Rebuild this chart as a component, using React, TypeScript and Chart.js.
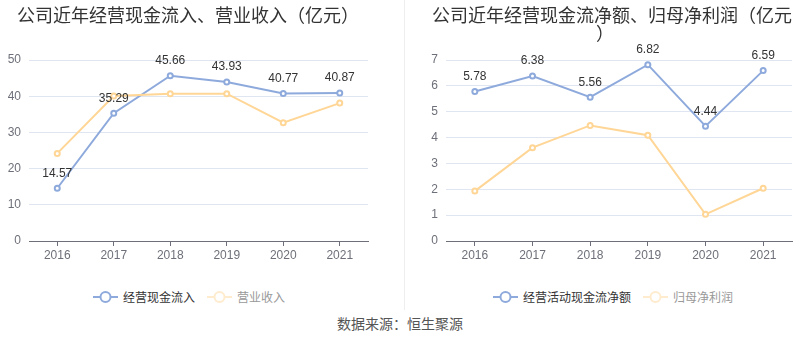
import React, { useEffect, useRef } from 'react';
import { Chart, registerables } from 'chart.js';

Chart.register(...registerables);

const years = ['2016', '2017', '2018', '2019', '2020', '2021'];
const cashInflow = [14.57, 35.29, 45.66, 43.93, 40.77, 40.87];
const revenue = [24.2, 40.05, 40.7, 40.7, 32.7, 38.1];
const netCashFlow = [5.78, 6.38, 5.56, 6.82, 4.44, 6.59];
const netProfit = [1.93, 3.61, 4.47, 4.09, 1.03, 2.04];

const leftTitle = '公司近年经营现金流入、营业收入（亿元）';
const rightTitleLine1 = '公司近年经营现金流净额、归母净利润（亿元';
const rightTitleLine2 = '）';
const leftLegend = ['经营现金流入', '营业收入'];
const rightLegend = ['经营活动现金流净额', '归母净利润'];
const sourceText = '数据来源：恒生聚源';

const BLUE = '#8eaadc';
const ORANGE = '#ffd696';
const CJK = '"Noto Sans CJK SC", "Noto Sans", sans-serif';
const NUM = '"Liberation Sans", Arial, sans-serif';

const labelPlugin = {
  id: 'pointLabels',
  afterDatasetsDraw(chart: any) {
    const ctx = chart.ctx;
    chart.data.datasets.forEach((ds: any, i: number) => {
      if (!ds.showLabels) return;
      const meta = chart.getDatasetMeta(i);
      ctx.save();
      ctx.font = `12px ${NUM}`;
      ctx.fillStyle = '#333';
      ctx.textAlign = 'center';
      ctx.textBaseline = 'middle';
      meta.data.forEach((pt: any, j: number) => {
        ctx.fillText(ds.data[j].toFixed(2), pt.x, pt.y - 15);
      });
      ctx.restore();
    });
  },
};

function makeConfig(a: number[], b: number[], max: number, step: number, axisWidth: number, padRight: number) {
  return {
    type: 'line' as const,
    data: {
      labels: years,
      datasets: [
        {
          data: a,
          borderColor: BLUE,
          backgroundColor: '#fff',
          borderWidth: 2,
          pointRadius: 2.5,
          pointBorderWidth: 2,
          pointBackgroundColor: '#fff',
          pointBorderColor: BLUE,
          tension: 0,
          showLabels: true,
          order: 1,
        },
        {
          data: b,
          borderColor: ORANGE,
          backgroundColor: '#fff',
          borderWidth: 2,
          pointRadius: 2.5,
          pointBorderWidth: 2,
          pointBackgroundColor: '#fff',
          pointBorderColor: ORANGE,
          tension: 0,
          order: 0,
        },
      ],
    },
    options: {
      responsive: false,
      animation: false,
      devicePixelRatio: 1,
      layout: { padding: { left: 0, right: padRight, top: 60, bottom: 0 } },
      plugins: { legend: { display: false }, tooltip: { enabled: false }, title: { display: false } },
      scales: {
        x: {
          offset: true,
          grid: { offset: false, drawOnChartArea: false, drawTicks: true, tickLength: 5, color: '#6e7079' },
          border: { color: '#6e7079', width: 1 },
          ticks: { color: '#6e7079', font: { size: 12, family: NUM }, padding: 2, maxRotation: 0 },
          afterFit: (s: any) => { s.height = 21; },
        },
        y: {
          min: 0,
          max,
          grid: { color: '#e0e6f1', drawTicks: false },
          border: { display: false },
          ticks: { stepSize: step, color: '#6e7079', font: { size: 12, family: NUM }, padding: 8 },
          afterFit: (s: any) => { s.width = axisWidth; },
        },
      },
    },
    plugins: [labelPlugin],
  };
}

function LineChart({ cfg, left, width, height }: any) {
  const ref = useRef<HTMLCanvasElement>(null);
  useEffect(() => {
    const chart = new Chart(ref.current as HTMLCanvasElement, cfg as any);
    return () => chart.destroy();
  }, []);
  return (
    <canvas
      ref={ref}
      width={width}
      height={height}
      style={{ position: 'absolute', left, top: 0, width, height }}
    />
  );
}

function LegendIcon({ color, faded }: { color: string; faded?: boolean }) {
  return (
    <svg width={25} height={14} style={{ display: 'block', opacity: faded ? 0.45 : 1 }}>
      <line x1={0} y1={7} x2={25} y2={7} stroke={color} strokeWidth={2} />
      <circle cx={12.5} cy={7} r={5} fill="#fff" stroke={color} strokeWidth={2} />
    </svg>
  );
}

function Legend({ items, left }: { items: string[]; left: number }) {
  return (
    <div style={{ position: 'absolute', left, top: 290, display: 'flex', alignItems: 'center', height: 14, fontFamily: CJK, fontSize: 12, whiteSpace: 'nowrap' }}>
      <LegendIcon color={BLUE} />
      <span style={{ marginLeft: 5, color: '#333', lineHeight: '14px' }}>{items[0]}</span>
      <span style={{ width: 12 }} />
      <LegendIcon color={ORANGE} faded />
      <span style={{ marginLeft: 5, color: '#999', lineHeight: '14px' }}>{items[1]}</span>
    </div>
  );
}

export default function App() {
  const leftCfg = makeConfig(cashInflow, revenue, 50, 10, 29, 32);
  const rightCfg = makeConfig(netCashFlow, netProfit, 7, 1, 42, 8);
  const titleStyle: any = { position: 'absolute', fontFamily: CJK, fontSize: 18, lineHeight: '18px', color: '#333', whiteSpace: 'nowrap' };
  return (
    <div style={{ position: 'absolute', left: 0, top: 0, width: 800, height: 358, background: '#fff', overflow: 'hidden' }}>
      <LineChart cfg={leftCfg} left={0} width={400} height={262} />
      <LineChart cfg={rightCfg} left={404} width={396} height={262} />
      <div style={{ position: 'absolute', left: 404, top: 0, width: 1, height: 310, background: '#eeeeee' }} />
      <div style={{ ...titleStyle, left: 17, top: 5 }}>{leftTitle}</div>
      <div style={{ ...titleStyle, left: 432, top: 5 }}>{rightTitleLine1}</div>
      <div style={{ ...titleStyle, left: 596, top: 23 }}>{rightTitleLine2}</div>
      <Legend items={leftLegend} left={93} />
      <Legend items={rightLegend} left={493} />
      <div style={{ position: 'absolute', left: 0, width: 800, top: 314, textAlign: 'center', fontFamily: CJK, fontSize: 14, lineHeight: '18px', color: '#555' }}>{sourceText}</div>
    </div>
  );
}
